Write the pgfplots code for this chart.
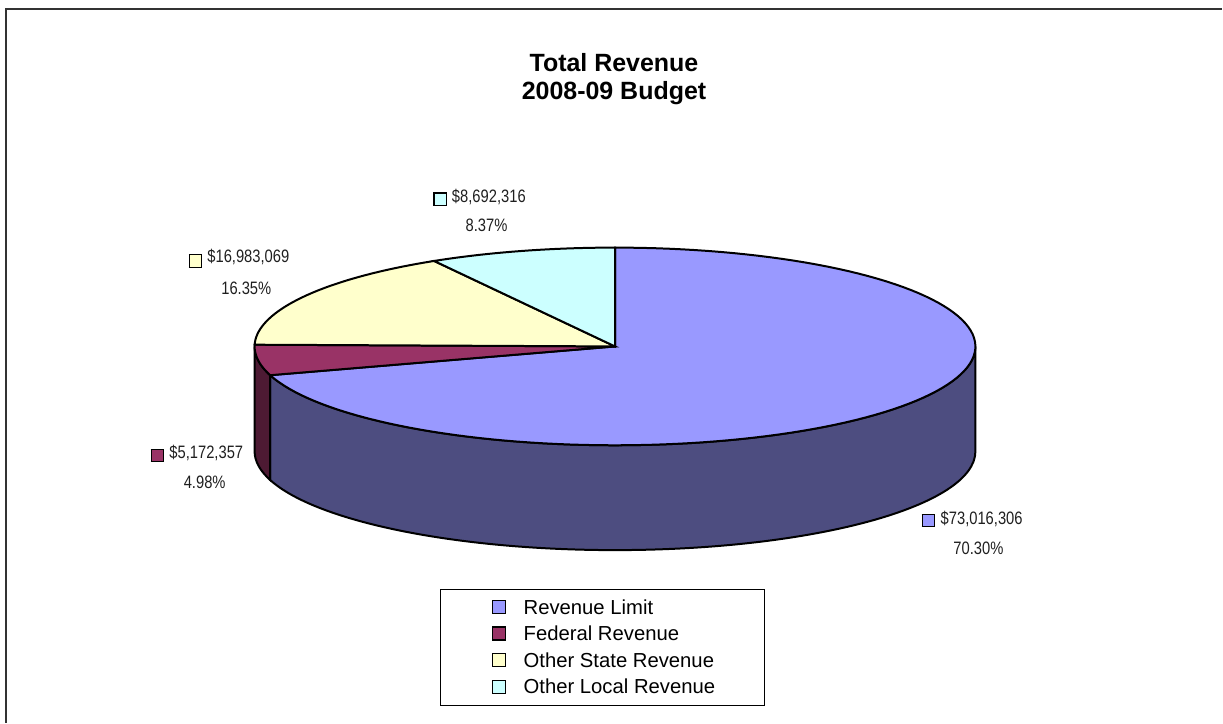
\documentclass[border=0pt]{standalone}
\usepackage{pgfplots}
\pgfplotsset{compat=1.18}
\usepackage{pgfplotstable}
\usepackage{fontspec}
\setmainfont{Liberation Sans}
\newfontfamily\narrow[FakeStretch=0.82]{Liberation Sans}
\definecolor{RL}{HTML}{9999FF}
\definecolor{RLside}{HTML}{4D4D80}
\definecolor{FR}{HTML}{993366}
\definecolor{FRside}{HTML}{4D1A33}
\definecolor{OS}{HTML}{FFFFCC}
\definecolor{OL}{HTML}{CCFFFF}
\definecolor{frame}{HTML}{333333}
% category, value, percent
\pgfplotstableread[col sep=comma]{
name,value,percent
Revenue Limit,73016306,70.30
Federal Revenue,5172357,4.98
Other State Revenue,16983069,16.35
Other Local Revenue,8692316,8.37
}\revtable
\pgfplotstablegetelem{0}{percent}\of\revtable \let\pA\pgfplotsretval
\pgfplotstablegetelem{1}{percent}\of\revtable \let\pB\pgfplotsretval
\pgfplotstablegetelem{2}{percent}\of\revtable \let\pC\pgfplotsretval
\pgfplotstablegetelem{3}{percent}\of\revtable \let\pD\pgfplotsretval
\pgfmathsetmacro\aZ{90}
\pgfmathsetmacro\aA{\aZ-3.6*\pA}
\pgfmathsetmacro\aB{\aA-3.6*\pB}
\pgfmathsetmacro\aC{\aB-3.6*\pC}
\pgfmathsetmacro\aD{\aC-3.6*\pD}
\def\cx{616}\def\cy{347}\def\rx{361}\def\ry{99}\def\dep{105}
\newcommand{\keybox}[1]{{\setlength{\fboxsep}{0pt}\setlength{\fboxrule}{1.2pt}\fcolorbox{black}{#1}{\vrule width 0pt height 11.1pt\hspace{11.1pt}}}}
\begin{document}
\begin{tikzpicture}
\begin{axis}[
  scale only axis, width=1223pt, height=723pt,
  xmin=0, xmax=1223, ymin=0, ymax=723, y dir=reverse,
  hide axis, clip=false,
  legend style={at={(axis cs:441,589.5)}, anchor=north west, draw=black, line width=1pt, fill=white,
    inner xsep=49pt, inner ysep=10pt, row sep=10pt, column sep=0pt,
    font=\fontsize{20.3}{24}\selectfont,
    nodes={inner sep=0pt, text height=15pt, text depth=1.6pt, anchor=base west}},
  legend cell align=left,
  legend image code/.code={\path[draw=none, fill=none] (-3pt,0pt) -- (31pt,0pt); \draw[#1, draw=black, line width=1.2pt] (0pt,0.5pt) rectangle (13pt,13.5pt);},
]
\path (axis cs:0,0) rectangle (axis cs:1223,723);
% frame
\draw[frame, line width=2pt] (axis cs:6.5,724) -- (axis cs:6.5,9.5) -- (axis cs:1224,9.5);
% side faces
\addplot[forget plot, fill=RLside, draw=black, line width=2pt, domain=\aA:0, samples=80, variable=\t]
  ({\cx+\rx*cos(\t)},{\cy-\ry*sin(\t)}) -- (axis cs:{\cx+\rx},{\cy+\dep})
  arc[start angle=0, end angle=\aA, x radius=\rx pt, y radius=\ry pt] -- cycle;
\addplot[forget plot, fill=FRside, draw=black, line width=2pt, domain=-180:\aA, samples=20, variable=\t]
  ({\cx+\rx*cos(\t)},{\cy-\ry*sin(\t)}) -- (axis cs:{\cx+\rx*cos(\aA)},{\cy-\ry*sin(\aA)+\dep})
  arc[start angle=\aA, end angle=-180, x radius=\rx pt, y radius=\ry pt] -- cycle;
% top faces
\addplot[fill=RL, draw=black, line width=2pt, domain=\aA:\aZ, samples=120, variable=\t]
  ({\cx+\rx*cos(\t)},{\cy-\ry*sin(\t)}) -- (axis cs:\cx,\cy) -- cycle;
\addlegendentry{Revenue Limit}
\addplot[fill=FR, draw=black, line width=2pt, domain=\aB:\aA, samples=20, variable=\t]
  ({\cx+\rx*cos(\t)},{\cy-\ry*sin(\t)}) -- (axis cs:\cx,\cy) -- cycle;
\addlegendentry{Federal Revenue}
\addplot[fill=OS, draw=black, line width=2pt, domain=\aC:\aB, samples=40, variable=\t]
  ({\cx+\rx*cos(\t)},{\cy-\ry*sin(\t)}) -- (axis cs:\cx,\cy) -- cycle;
\addlegendentry{Other State Revenue}
\addplot[fill=OL, draw=black, line width=2pt, domain=\aD:\aC, samples=30, variable=\t]
  ({\cx+\rx*cos(\t)},{\cy-\ry*sin(\t)}) -- (axis cs:\cx,\cy) -- cycle;
\addlegendentry{Other Local Revenue}
% title
\node[anchor=base, font=\fontsize{25}{30}\selectfont\bfseries] at (axis cs:615,72) {Total Revenue};
\node[anchor=base, font=\fontsize{25}{30}\selectfont\bfseries] at (axis cs:615,100) {2008-09 Budget};
% data labels
\begin{scope}[every node/.style={font=\narrow\fontsize{18}{21}\selectfont, text=black!88, inner sep=0pt}]
\node[anchor=base west] at (axis cs:923,525.7) {\raisebox{-1.3pt}{\keybox{RL}}\hspace{5.5pt}\$73,016,306};
\node[anchor=base] at (axis cs:980,555) {70.30\%};
\node[anchor=base west] at (axis cs:150.7,459.3) {\raisebox{-2.7pt}{\keybox{FR}}\hspace{5.3pt}\$5,172,357};
\node[anchor=base] at (axis cs:205,489.3) {4.98\%};
\node[anchor=base west] at (axis cs:189,263.3) {\raisebox{-3.7pt}{\keybox{OS}}\hspace{5pt}\$16,983,069};
\node[anchor=base] at (axis cs:246.7,295) {16.35\%};
\node[anchor=base west] at (axis cs:434,202.7) {\raisebox{-2.3pt}{\keybox{OL}}\hspace{5pt}\$8,692,316};
\node[anchor=base] at (axis cs:487.3,232.3) {8.37\%};
\end{scope}
\end{axis}
\end{tikzpicture}
\end{document}
